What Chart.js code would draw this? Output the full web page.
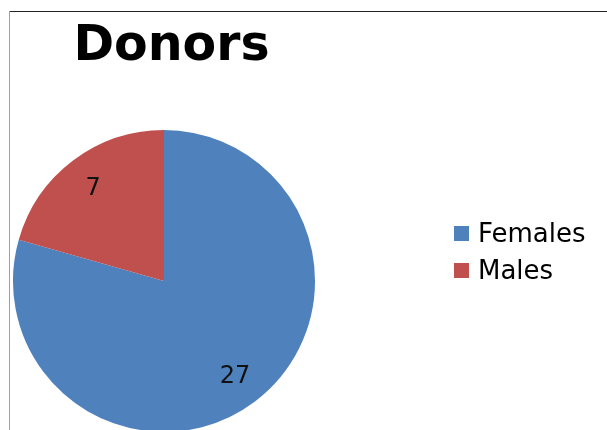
<!DOCTYPE html>
<html><head><meta charset="utf-8">
<script src="https://cdn.jsdelivr.net/npm/chart.js@4/dist/chart.umd.min.js"></script>
<style>
html,body{margin:0;padding:0;background:#fff;overflow:hidden;width:607px;height:430px}
#wrap{position:absolute;left:0;top:0;width:607px;height:460px}
#c{display:block}
#frameTop{position:absolute;left:9px;top:11px;width:598px;height:1px;background:#222}
#frameLeft{position:absolute;left:9px;top:11px;width:1px;height:419px;background:#a0a0a0}
</style></head><body>
<div id="wrap"><canvas id="c" width="607" height="460"></canvas></div>
<div id="frameTop"></div><div id="frameLeft"></div>
<script>
const chartTitle = 'Donors';
const categories = ['Females', 'Males'];
const values = [27, 7];
const colors = ['#4F81BD', '#C0504D'];

const FONT = '"DejaVu Sans", Verdana, sans-serif';

const decor = {
  id: 'decor',
  afterDatasetsDraw(chart) {
    const ctx = chart.ctx;
    const meta = chart.getDatasetMeta(0);
    ctx.save();
    // data labels
    ctx.font = '24px ' + FONT;
    ctx.fillStyle = '#111';
    ctx.textAlign = 'center';
    ctx.textBaseline = 'middle';
    meta.data.forEach((arc, i) => {
      const p = arc.getProps(['x', 'y', 'startAngle', 'endAngle', 'outerRadius'], true);
      const mid = (p.startAngle + p.endAngle) / 2;
      const r = p.outerRadius * 0.78;
      ctx.fillText(String(chart.data.datasets[0].data[i]), p.x + Math.cos(mid) * r, p.y + Math.sin(mid) * r + 2);
    });
    // title
    ctx.font = 'bold 49px ' + FONT;
    ctx.fillStyle = '#000';
    ctx.textBaseline = 'alphabetic';
    ctx.fillText(chartTitle, 171.5, 60);
    // legend
    ctx.font = '26px ' + FONT;
    ctx.textAlign = 'left';
    chart.data.labels.forEach((lab, i) => {
      const by = 226 + i * 37;
      ctx.fillStyle = chart.data.datasets[0].backgroundColor[i];
      ctx.fillRect(454, by, 15, 15);
      ctx.fillStyle = '#000';
      ctx.fillText(lab, 478, by + 16);
    });
    ctx.restore();
  }
};

new Chart(document.getElementById('c'), {
  type: 'pie',
  data: {
    labels: categories,
    datasets: [{ data: values, backgroundColor: colors, borderWidth: 0 }]
  },
  options: {
    responsive: false,
    animation: false,
    devicePixelRatio: 1,
    layout: { padding: { left: 13, right: 292, top: 130, bottom: 28 } },
    plugins: { legend: { display: false }, tooltip: { enabled: false }, title: { display: false } }
  },
  plugins: [decor]
});
</script>
</body></html>
